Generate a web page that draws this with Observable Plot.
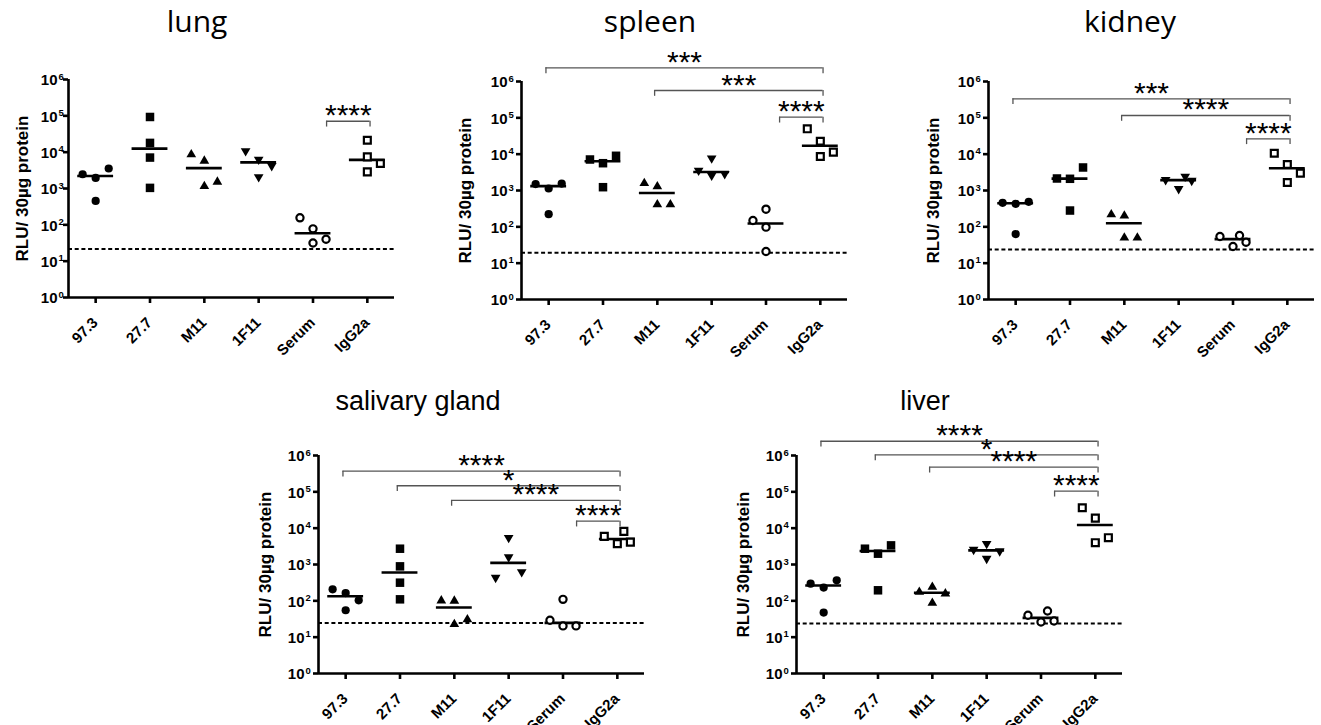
<!DOCTYPE html>
<html><head><meta charset="utf-8">
<script src="https://cdn.jsdelivr.net/npm/d3@7"></script>
<script src="https://cdn.jsdelivr.net/npm/@observablehq/plot@0.6"></script>
<style>
html,body{margin:0;padding:0;background:#fff;overflow:hidden}
#root{position:relative;width:1321px;height:725px;background:#fff}
.panel{position:absolute}
.title{position:absolute;transform:translateX(-50%);white-space:nowrap;color:#000;line-height:1}
.organ g[aria-label="y-axis tick"], .organ g[aria-label="x-axis tick"]{stroke-width:2.6px;stroke:#000}
</style></head><body><div id="root"></div>
<script>
// ---------- data ----------
const categories = ["97.3", "27.7", "M11", "1F11", "Serum", "IgG2a"];
const organs = ["lung", "spleen", "kidney", "salivary gland", "liver"];
const yTicks = [1, 10, 100, 1e3, 1e4, 1e5, 1e6];
const yTickBase = "10";
const yTickExponents = ["0", "1", "2", "3", "4", "5", "6"];
const yLabel = "RLU/ 30µg protein";

// values per category (4 mice each), and their horizontal slot in the scatter column
const lungValues = [[2470, 1960, 3550, 456], [93000, 18000, 7100, 1040], [8600, 5750, 1520, 1155], [10800, 6280, 4190, 2080], [156, 77.6, 40, 31.6], [21300, 7410, 4880, 2870]];
const lungSlots = [[-1, 0, 1, 0], [0, 0, 0, 0], [-1, 0, 1, 0], [-1, 0, 1, 0], [-1, 0, 1, 0], [0, 0, 1, 0]];
const spleenValues = [[1500, 1135, 1550, 223], [7130, 5640, 9020, 1233], [1585, 1290, 411, 411], [7740, 3550, 2590, 2880], [306, 149, 98, 21], [49900, 22700, 8630, 11350]];
const spleenSlots = [[-1, 0, 1, 0], [-1, 0, 1, 0], [-1, 0, 0, 1], [0, -1, 0, 1], [0, -1, 0, 0], [-1, 0, 0, 1]];
const kidneyValues = [[458, 430, 488, 63], [2140, 2100, 4300, 281], [218, 201, 50, 50], [1970, 1115, 2430, 1880], [54.2, 57.7, 28.7, 37.8], [10600, 5190, 3000, 1660]];
const kidneySlots = [[-1, 0, 1, 0], [-1, 0, 1, 0], [-1, 0, 0, 1], [-1, 0, 0.5, 1], [-1, 0.5, 0, 1], [-1, 0, 1, 0]];
const salivaryValues = [[207, 164, 103, 55], [2720, 889, 316, 110], [101, 100, 22.6, 30.5], [5460, 1600, 434, 621], [110, 29.2, 20.4, 20.4], [5930, 3740, 8150, 4140]];
const salivarySlots = [[-1, 0, 1, 0], [0, 0, 0, 0], [-1, 0, 0, 1], [0, 0, -1, 1], [0, -1, 0, 1], [-1, 0, 0.5, 1]];
const liverValues = [[297, 231, 366, 47.5], [2720, 1985, 3360, 195], [175, 240, 158, 87], [2560, 3740, 2340, 1450], [40, 26.2, 52.5, 27.9], [36500, 18900, 5460, 3980]];
const liverSlots = [[-1, 0, 1, 0], [-1, 0, 1, 0], [-1, 0, 1, 0], [-1, 0, 1, 0], [-1, 0, 0.5, 1], [-1, 0, 1, 0]];

const detectionLimits = [21.7, 19.3, 23.8, 24.6, 23.6];

const lungBrackets = [{from: "Serum", to: "IgG2a", label: "****", level: 71000}];
const spleenBrackets = [
  {from: "97.3", to: "IgG2a", label: "***", level: 2.38e6},
  {from: "M11", to: "IgG2a", label: "***", level: 5.65e5},
  {from: "Serum", to: "IgG2a", label: "****", level: 1.04e5}];
const kidneyBrackets = [
  {from: "97.3", to: "IgG2a", label: "***", level: 3.34e5},
  {from: "M11", to: "IgG2a", label: "****", level: 1.16e5},
  {from: "Serum", to: "IgG2a", label: "****", level: 2.65e4}];
const salivaryBrackets = [
  {from: "97.3", to: "IgG2a", label: "****", level: 3.7e5},
  {from: "27.7", to: "IgG2a", label: "*", level: 1.47e5},
  {from: "M11", to: "IgG2a", label: "****", level: 5.8e4},
  {from: "Serum", to: "IgG2a", label: "****", level: 1.56e4}];
const liverBrackets = [
  {from: "97.3", to: "IgG2a", label: "****", level: 2.47e6},
  {from: "27.7", to: "IgG2a", label: "*", level: 1.04e6},
  {from: "M11", to: "IgG2a", label: "****", level: 4.76e5},
  {from: "Serum", to: "IgG2a", label: "****", level: 1.04e5}];

// ---------- styling / layout ----------
const FONT = "'Liberation Sans', Arial, Helvetica, sans-serif";
const SPREAD = 0.24;       // slot spacing in category units
const MEDIAN_HALF = 0.33;  // half-width of the median bar in category units
const DROP = 0.16;         // bracket end drop, in decades
const LINE_W = 2.6;
const triangleDown = {
  draw(context, size) {
    const y = -Math.sqrt(size / (Math.sqrt(3) * 3));
    context.moveTo(0, -y * 2);
    context.lineTo(-Math.sqrt(3) * y, y);
    context.lineTo(Math.sqrt(3) * y, y);
    context.closePath();
  }
};
const symbolStyles = [
  {symbol: "circle", r: 4.1, fill: "black", stroke: "none", strokeWidth: 0},
  {symbol: "square", r: 4.8, fill: "black", stroke: "none", strokeWidth: 0},
  {symbol: "triangle", r: 3.6, fill: "black", stroke: "none", strokeWidth: 0},
  {symbol: triangleDown, r: 3.6, fill: "black", stroke: "none", strokeWidth: 0},
  {symbol: "circle", r: 3.6, fill: "white", stroke: "black", strokeWidth: 2.2},
  {symbol: "square", r: 3.9, fill: "white", stroke: "black", strokeWidth: 2.2}
];

const panels = [
  {values: lungValues, slots: lungSlots, brackets: lungBrackets, left: 0, top: 39, labelDx: -46, tickGap: 11, titleX: 197, titleBase: 33, titleFont: "'Open Sans', sans-serif", titleSize: 30},
  {values: spleenValues, slots: spleenSlots, brackets: spleenBrackets, left: 453, top: 41, labelDx: -56, tickGap: 14, titleX: 650, titleBase: 33, titleFont: "'Open Sans', sans-serif", titleSize: 30},
  {values: kidneyValues, slots: kidneySlots, brackets: kidneyBrackets, left: 920, top: 41, labelDx: -55, tickGap: 14, titleX: 1130, titleBase: 33, titleFont: "'Open Sans', sans-serif", titleSize: 30},
  {values: salivaryValues, slots: salivarySlots, brackets: salivaryBrackets, left: 250, top: 415, labelDx: -53, tickGap: 14, titleX: 418, titleBase: 411, titleFont: FONT, titleSize: 27},
  {values: liverValues, slots: liverSlots, brackets: liverBrackets, left: 728, top: 415, labelDx: -53, tickGap: 14, titleX: 925, titleBase: 411, titleFont: FONT, titleSize: 27}
];

const root = document.getElementById("root");

panels.forEach((p, k) => {
  const pts = [];
  p.values.forEach((vals, i) => vals.forEach((v, j) => pts.push({cat: i, x: i + p.slots[i][j] * SPREAD, y: v})));
  const medians = p.values.map((vals, i) => ({i, m: d3.median(vals)}));
  const bx1 = b => {
    const a = categories.indexOf(b.from), c = categories.indexOf(b.to);
    return c - a === 1 ? a + 0.25 : a - 0.05;
  };
  const bx2 = b => categories.indexOf(b.to) + 0.05;
  const ends = p.brackets.flatMap(b => [{x: bx1(b), level: b.level}, {x: bx2(b), level: b.level}]);
  const catIdx = d3.range(categories.length);

  const marks = [
    Plot.ruleY([detectionLimits[k]], {y: d => d, stroke: "black", strokeWidth: 2, strokeDasharray: "4,2.7"}),
    Plot.ruleY(medians, {y: "m", x1: d => d.i - MEDIAN_HALF, x2: d => d.i + MEDIAN_HALF, stroke: "black", strokeWidth: LINE_W}),
    ...categories.map((c, i) => Plot.dot(pts.filter(d => d.cat === i), {x: "x", y: "y", ...symbolStyles[i]})),
    Plot.ruleX([-0.5], {stroke: "black", strokeWidth: LINE_W}),
    Plot.ruleY([1], {stroke: "black", strokeWidth: LINE_W}),
    Plot.axisY({ticks: yTicks, tickFormat: () => "", tickSize: 5, strokeWidth: LINE_W, label: null}),
    Plot.axisX({ticks: catIdx, tickFormat: () => "", tickSize: 6, strokeWidth: LINE_W, label: null}),
    // y tick labels: "10" with a raised exponent
    Plot.text(yTicks, {x: -0.5, y: d => d, text: () => yTickBase, textAnchor: "end", lineAnchor: "middle",
      dx: -p.tickGap, dy: 1, fontSize: 15, fontWeight: "bold", fontFamily: FONT, fill: "black"}),
    Plot.text(yTicks, {x: -0.5, y: d => d, text: (d, i) => yTickExponents[i], textAnchor: "start", lineAnchor: "bottom",
      dx: -p.tickGap + 1, dy: 0, fontSize: 9.5, fontWeight: "bold", fontFamily: FONT, fill: "black"}),
    // x tick labels rotated
    Plot.text(catIdx, {x: d => d, frameAnchor: "bottom", text: i => categories[i], rotate: -45, textAnchor: "end",
      lineAnchor: "bottom", dx: 3, dy: 26, fontSize: 15, fontWeight: "bold", fontFamily: FONT, fill: "black"}),
    // significance brackets
    Plot.ruleY(p.brackets, {y: "level", x1: bx1, x2: bx2, stroke: "#555", strokeWidth: 1.3}),
    Plot.ruleX(ends, {x: "x", y1: "level", y2: d => d.level / Math.pow(10, DROP), stroke: "#555", strokeWidth: 1.3}),
    Plot.text(p.brackets, {x: b => (bx1(b) + bx2(b)) / 2, y: "level", text: "label", fontSize: 30, fontFamily: FONT,
      lineAnchor: "bottom", textAnchor: "middle", dy: 4, fill: "black"}),
    // y axis title
    Plot.text([yLabel], {text: d => d, frameAnchor: "left", textAnchor: "middle", lineAnchor: "middle", dx: p.labelDx,
      rotate: -90, fontSize: 17, fontWeight: "bold", fontFamily: FONT, fill: "black"})
  ];

  const svg = Plot.plot({
    width: 400, height: 313,
    marginLeft: 68, marginRight: 6, marginTop: 40, marginBottom: 55,
    x: {type: "linear", domain: [-0.5, 5.5]},
    y: {type: "log", domain: [1, 1e6]},
    className: "organ",
    style: {fontFamily: FONT, background: "transparent", overflow: "visible", color: "black"},
    marks
  });
  const wrap = document.createElement("div");
  wrap.className = "panel";
  wrap.style.left = p.left + "px";
  wrap.style.top = p.top + "px";
  wrap.style.width = "400px";
  wrap.appendChild(svg);
  root.appendChild(wrap);
});

panels.forEach((p, k) => {
  const t = document.createElement("div");
  t.className = "title";
  t.textContent = organs[k];
  t.style.fontFamily = p.titleFont;
  t.style.fontSize = p.titleSize + "px";
  const ascent = p.titleFont.includes("Open") ? 0.888 : 0.847;
  t.style.left = p.titleX + "px";
  t.style.top = (p.titleBase - ascent * p.titleSize) + "px";
  root.appendChild(t);
});
</script></body></html>
